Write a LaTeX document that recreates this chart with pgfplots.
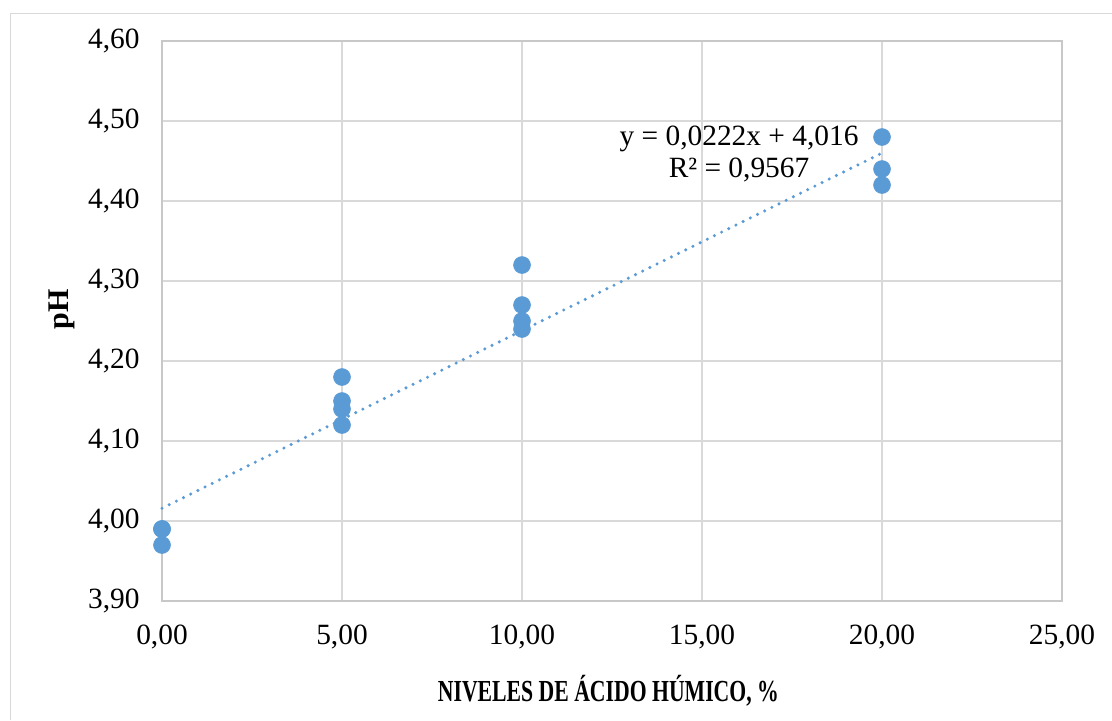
\documentclass[border=0pt]{standalone}
\usepackage{pgfplots}
\pgfplotsset{compat=1.18}
\usepackage{graphicx}
\usepackage{fontspec}
\setmainfont{Liberation Serif}
\definecolor{exblue}{RGB}{91,155,213}
\definecolor{gridgray}{RGB}{217,217,217}
\definecolor{axgray}{RGB}{200,200,200}
\begin{document}
\begin{tikzpicture}[x=0.5pt,y=0.5pt]
\useasboundingbox (0,0) rectangle (1112,720);
\fill[white] (0,0) rectangle (1112,720);
\draw[gridgray, line width=0.9pt] (10.5,0) -- (10.5,706.5) -- (1112,706.5);
\begin{axis}[
  at={(81pt,59.5pt)}, anchor=south west,
  width=450pt, height=280pt, scale only axis,
  xmin=0, xmax=25, ymin=3.9, ymax=4.6,
  xtick={0,5,10,15,20,25},
  ytick={3.9,4.0,4.1,4.2,4.3,4.4,4.5,4.6},
  major tick length=0pt,
  grid=major,
  grid style={gridgray, line width=0.9pt},
  axis line style={axgray, line width=0.9pt},
  font=\fontsize{14.7pt}{16pt}\selectfont,
  tick label style={font=\fontsize{14.7pt}{16pt}\selectfont, inner sep=0pt},
  xticklabel shift=12pt,
  yticklabel shift=11pt,
  /pgf/number format/.cd, fixed, fixed zerofill, precision=2, use comma, 1000 sep={}, assume math mode=true,
  /pgfplots/.cd,
  xlabel={\scalebox{0.71}[1]{\fontsize{15.3pt}{18pt}\selectfont\bfseries NIVELES DE ÁCIDO HÚMICO, \%}},
  ylabel={\fontsize{15pt}{18pt}\selectfont\bfseries pH},
  xlabel style={at={(axis description cs:0.496,-0.1786)}, anchor=base, inner sep=0pt},
  ylabel style={at={(axis description cs:-0.111,0.521)}, anchor=center, inner sep=0pt, rotate=0},
  clip=false,
]
\addplot[exblue, line width=1.7pt, line cap=round, dash pattern=on 0pt off 4pt] coordinates {(0,4.016) (20,4.46)};
\addplot[only marks, mark=*, mark size=4.2pt, mark options={fill=exblue, draw=exblue}] coordinates {
(0,3.99) (0,3.97) (0,3.99)
(5,4.18) (5,4.15) (5,4.14) (5,4.12)
(10,4.32) (10,4.27) (10,4.25) (10,4.24)
(20,4.48) (20,4.44) (20,4.42)
};
\node[align=center, font=\fontsize{14.7pt}{16pt}\selectfont, inner sep=0pt] at (axis cs:16.03,4.459) {y = 0,0222x + 4,016\\R² = 0,9567};
\end{axis}
\end{tikzpicture}
\end{document}
